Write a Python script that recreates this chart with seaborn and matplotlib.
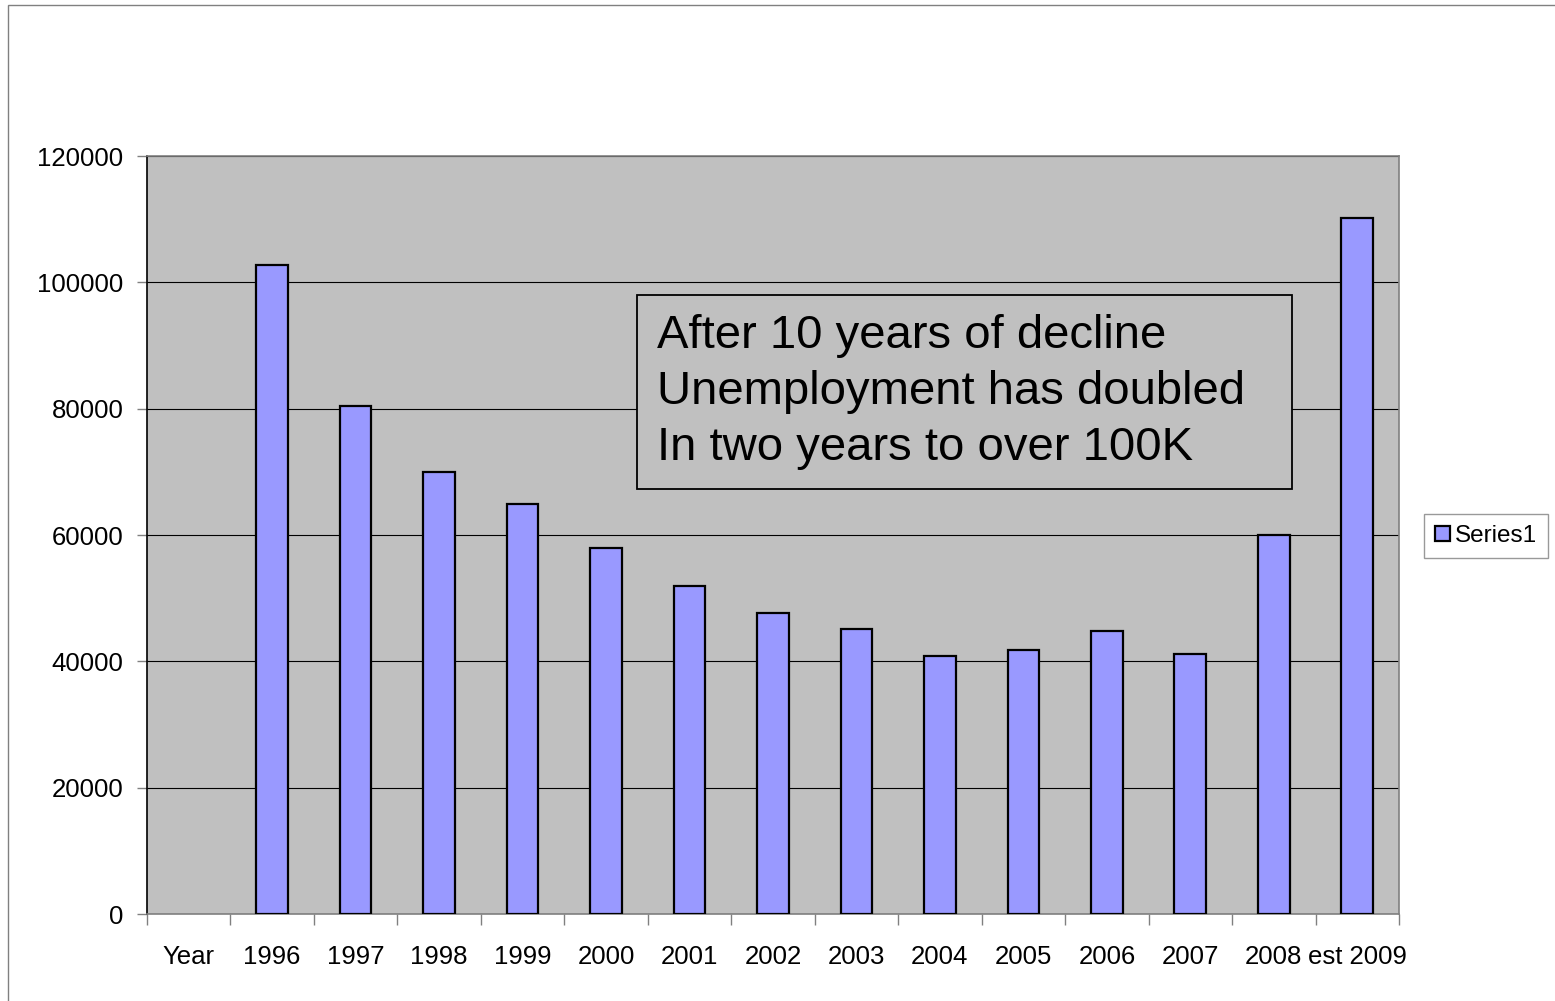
import numpy as np
import pandas as pd
import matplotlib.pyplot as plt
import seaborn as sns
from matplotlib.patches import Rectangle

# data
categories = ['Year', '1996', '1997', '1998', '1999', '2000', '2001', '2002',
              '2003', '2004', '2005', '2006', '2007', '2008', 'est 2009']
years = categories[1:]
values = [102700, 80400, 70000, 64900, 58000, 51900, 47700, 45100,
          40800, 41800, 44800, 41200, 60000, 110200]
y_ticks = [0, 20000, 40000, 60000, 80000, 100000, 120000]
note_lines = ['After 10 years of decline', 'Unemployment has doubled', 'In two years to over 100K']

df = pd.DataFrame({'year': years, 'value': values, 'series': 'Series1'})

sns.set_theme(style='white')
plt.rcParams['font.family'] = ['Liberation Sans', 'DejaVu Sans']
plt.rcParams['text.color'] = 'black'

fig = plt.figure(figsize=(15.55, 10.01), dpi=100)
ax = fig.add_axes([0.0945, 0.0869, 0.8052, 0.7572])
ax.set_facecolor('#C0C0C0')

sns.barplot(data=df, x='year', y='value', hue='series', order=categories,
            palette=['#9999FF'], saturation=1, width=0.38, edgecolor='black',
            linewidth=1.6, ax=ax, zorder=3)

ax.set_xlim(-0.5, len(categories) - 0.5)
ax.set_ylim(0, 120000)
ax.set_yticks(y_ticks)
ax.set_yticklabels([str(v) for v in y_ticks], fontsize=18.5, color='black')
ax.set_xticks(range(len(categories)))
ax.set_xticklabels(categories, fontsize=18.5, color='black')
ax.set_xticks(np.arange(-0.5, len(categories)), minor=True)
ax.tick_params(axis='x', which='major', bottom=True, length=0, pad=22)
ax.tick_params(axis='x', which='minor', bottom=True, length=8, width=1,
               color='#808080', direction='out')
ax.tick_params(axis='y', which='major', left=True, length=7, width=1,
               color='#808080', pad=10, direction='out')
ax.set_xlabel('')
ax.set_ylabel('')

ax.yaxis.grid(True, color='black', linewidth=0.8)
ax.set_axisbelow(True)

for side in ['top', 'right', 'bottom']:
    ax.spines[side].set_color('#808080')
    ax.spines[side].set_linewidth(1.2)
ax.spines['left'].set_color('black')
ax.spines['left'].set_linewidth(1.2)

# annotation box
ax.add_patch(Rectangle((0.3914, 0.5607), 0.5231, 0.2559, transform=ax.transAxes,
                       facecolor='#C0C0C0', edgecolor='black', linewidth=1.3, zorder=4))
ax.text(0.4073, 0.6887, '\n'.join(note_lines), transform=ax.transAxes,
        fontsize=34, color='black', ha='left', va='center', linespacing=1.36, zorder=5)

# legend
handles, labels = ax.get_legend_handles_labels()
leg = ax.legend(handles, labels, loc='center', bbox_to_anchor=(0.9557, 0.4645),
                bbox_transform=fig.transFigure, fontsize=17.5, frameon=True,
                fancybox=False, handlelength=0.6, handleheight=0.6,
                handletextpad=0.2, borderpad=0.45, borderaxespad=0)
leg.get_frame().set_edgecolor('#808080')
leg.get_frame().set_linewidth(1)
leg.get_frame().set_facecolor('white')
for t in leg.get_texts():
    t.set_color('black')

# chart border
fig.patches.append(Rectangle((8 / 1555, -0.05), 1.1, 1 - 5 / 1001 + 0.05,
                             transform=fig.transFigure, fill=False,
                             edgecolor='#808080', linewidth=1))

fig.savefig('out.png', dpi=100)
